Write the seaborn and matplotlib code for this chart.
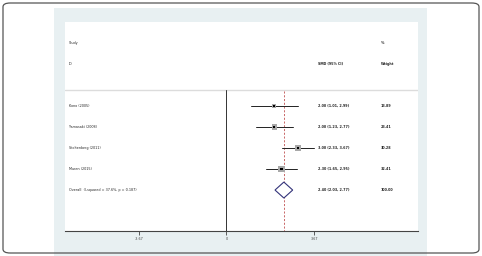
import numpy as np
import pandas as pd
import matplotlib
matplotlib.use("Agg")
import matplotlib.pyplot as plt
from matplotlib.patches import Rectangle, FancyBboxPatch, Polygon
import seaborn as sns

# ----------------------------------------------------------
# DATA
# ----------------------------------------------------------

studies = ["Kono (2005)", "Yamasaki (2008)", "Stoltenberg (2011)", "Muren (2015)"]
smd = [2.00, 2.00, 3.00, 2.30]
ci_low = [1.01, 1.23, 2.33, 1.65]
ci_high = [2.99, 2.77, 3.67, 2.95]
weights = [13.89, 23.41, 30.28, 32.41]

overall_label = "Overall  (I-squared = 37.6%, p = 0.187)"
overall_smd = 2.40
overall_low = 2.03
overall_high = 2.77
overall_weight = 100.00

tick_vals = [-3.67, 0, 3.67]
tick_labels = ["-3.67", "0", "3.67"]

df = pd.DataFrame({
    "study": studies,
    "smd": smd,
    "low": ci_low,
    "high": ci_high,
    "weight": weights,
})
df["row"] = np.arange(1, len(df) + 1)
overall_row = len(df) + 1

# ----------------------------------------------------------
# FIGURE
# ----------------------------------------------------------

sns.set_style("white")
plt.rcParams["font.family"] = ["DejaVu Sans"]

fig = plt.figure(figsize=(4.82, 2.56), dpi=100)
fig.patch.set_facecolor("white")

# light panel + outer rounded frame
fig.patches.append(Rectangle((54 / 482, 0), 373 / 482, 248 / 256,
                             transform=fig.transFigure,
                             facecolor="#e8f0f2", edgecolor="none", zorder=-1))
fig.patches.append(FancyBboxPatch((3 / 482, 3 / 256), 476 / 482, 250 / 256,
                                  boxstyle="round,pad=0,rounding_size=0.015",
                                  transform=fig.transFigure,
                                  facecolor="none", edgecolor="#555555",
                                  linewidth=0.9, zorder=5))

ax = fig.add_axes([65 / 482, 25 / 256, 353 / 482, 209 / 256])
ax.set_zorder(1)
ax.set_facecolor("white")
ax.set_xlim(-6.757, 8.013)
ax.set_ylim(6.95, -3.0)
for s in ["top", "right", "left"]:
    ax.spines[s].set_visible(False)
ax.spines["bottom"].set_color("#444444")
ax.spines["bottom"].set_linewidth(0.8)
ax.set_xticks(tick_vals)
ax.set_xticklabels(tick_labels, fontsize=2.4, color="#333333")
ax.tick_params(axis="x", bottom=True, direction="out", length=3, width=0.6,
               pad=1.2, colors="#444444")
ax.set_yticks([])

fs = 2.4
x_study, x_es, x_w = -6.61, 3.83, 6.46

# header
ax.text(x_study, -2.0, "Study", fontsize=fs, va="center")
ax.text(x_study, -1.0, "ID", fontsize=fs, va="center")
ax.text(x_es, -1.0, "SMD (95% CI)", fontsize=fs, va="center", fontweight="bold")
ax.text(x_w, -2.0, "%", fontsize=fs, va="center", fontweight="bold")
ax.text(x_w, -1.0, "Weight", fontsize=fs, va="center", fontweight="bold")
ax.axhline(0.24, color="#dcdcdc", linewidth=1.0)

# null line and overall dashed line
ax.plot([0, 0], [0.24, 6.95], color="#333333", linewidth=0.7)
ax.plot([overall_smd, overall_smd], [0.3, 6.95], color="#c05050",
        linewidth=0.6, linestyle=(0, (2.5, 2)))

# confidence intervals
for _, r in df.iterrows():
    ax.plot([r["low"], r["high"]], [r["row"], r["row"]], color="#222222", linewidth=0.7)

# weight boxes and point estimates
sns.scatterplot(data=df, x="smd", y="row", size="weight", sizes=(8, 20),
                marker="s", color="#a8a8a8", edgecolor="none", legend=False, ax=ax, zorder=3)
sns.scatterplot(data=df, x="smd", y="row", marker="s", s=3, color="black",
                edgecolor="none", legend=False, ax=ax, zorder=4)
ax.set_xlabel("")
ax.set_ylabel("")

# overall diamond
h = 0.38
ax.add_patch(Polygon([(overall_low, overall_row), (overall_smd, overall_row - h),
                      (overall_high, overall_row), (overall_smd, overall_row + h)],
                     closed=True, facecolor="white", edgecolor="#33337a",
                     linewidth=0.8, zorder=3))

# labels
for _, r in df.iterrows():
    ax.text(x_study, r["row"], r["study"], fontsize=fs, va="center")
    ax.text(x_es, r["row"], f"{r['smd']:.2f} ({r['low']:.2f}, {r['high']:.2f})",
            fontsize=fs, va="center", fontweight="bold")
    ax.text(x_w, r["row"], f"{r['weight']:.2f}", fontsize=fs, va="center", fontweight="bold")

ax.text(x_study, overall_row, overall_label, fontsize=fs, va="center")
ax.text(x_es, overall_row, f"{overall_smd:.2f} ({overall_low:.2f}, {overall_high:.2f})",
        fontsize=fs, va="center", fontweight="bold")
ax.text(x_w, overall_row, f"{overall_weight:.2f}", fontsize=fs, va="center", fontweight="bold")

fig.savefig("out.png", dpi=100)
